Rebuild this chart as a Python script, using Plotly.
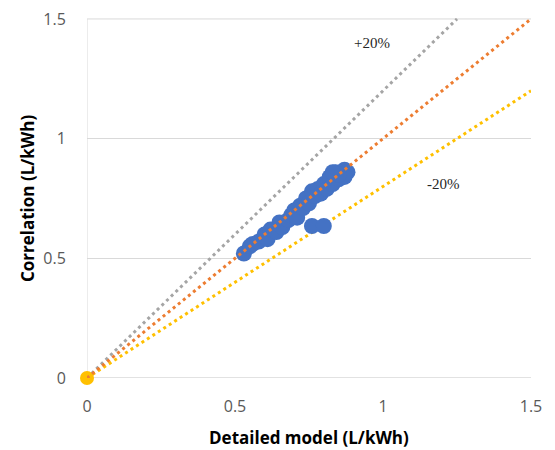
import plotly.graph_objects as go

# Scatter data: detailed model vs correlation (L/kWh)
detailed = [0.53, 0.55, 0.56, 0.58, 0.60, 0.61, 0.62, 0.64, 0.65, 0.66, 0.68, 0.69,
            0.70, 0.71, 0.72, 0.73, 0.74, 0.75, 0.77, 0.76, 0.78, 0.79, 0.80, 0.81,
            0.82, 0.83, 0.84, 0.85, 0.86, 0.87, 0.88, 0.87, 0.85, 0.83, 0.76, 0.80]
correlation = [0.52, 0.55, 0.56, 0.57, 0.60, 0.58, 0.62, 0.61, 0.65, 0.63, 0.66, 0.68,
               0.70, 0.67, 0.72, 0.71, 0.75, 0.73, 0.76, 0.78, 0.79, 0.77, 0.81, 0.79,
               0.84, 0.81, 0.86, 0.83, 0.86, 0.87, 0.86, 0.84, 0.85, 0.86, 0.635, 0.635]

# Reference lines
plus20_x = [0, 1.25]
plus20_y = [0, 1.5]
equal_x = [0, 1.5]
equal_y = [0, 1.5]
minus20_x = [0, 1.5]
minus20_y = [0, 1.2]
origin_x = [0]
origin_y = [0]

x_ticks = [0, 0.5, 1, 1.5]
y_ticks = [0, 0.5, 1, 1.5]
tick_text = ["0", "0.5", "1", "1.5"]

annotations_text = ["+20%", "-20%"]
annotations_pos = [(0.963, 1.40), (1.205, 0.81)]

fig = go.Figure()
dash = "3px,3.5px"
lw = 3
fig.add_trace(go.Scatter(x=plus20_x, y=plus20_y, mode="lines",
                         line=dict(color="#A5A5A5", width=lw, dash=dash), hoverinfo="skip"))
fig.add_trace(go.Scatter(x=minus20_x, y=minus20_y, mode="lines",
                         line=dict(color="#FFC000", width=lw, dash=dash), hoverinfo="skip"))
fig.add_trace(go.Scatter(x=detailed, y=correlation, mode="markers",
                         marker=dict(color="#4472C4", size=16, line=dict(width=0))))
fig.add_trace(go.Scatter(x=origin_x, y=origin_y, mode="markers",
                         marker=dict(color="#FFC000", size=14, line=dict(width=0))))
fig.add_trace(go.Scatter(x=equal_x, y=equal_y, mode="lines",
                         line=dict(color="#ED7D31", width=lw, dash=dash), hoverinfo="skip"))

for t, (ax, ay) in zip(annotations_text, annotations_pos):
    fig.add_annotation(x=ax, y=ay, text=t, showarrow=False,
                       font=dict(family="Liberation Serif", size=15, color="#262626"))

# Axis titles as annotations (fixed positions)
fig.add_annotation(xref="paper", yref="paper", x=0.5, y=-0.164, yanchor="middle",
                   text="<b>Detailed model (L/kWh)</b>", showarrow=False,
                   font=dict(family="Open Sans", size=17, color="#000000"))
fig.add_annotation(xref="paper", yref="paper", x=-0.135, y=0.5, xanchor="center",
                   text="<b>Correlation (L/kWh)</b>", showarrow=False, textangle=-90,
                   font=dict(family="Open Sans", size=17, color="#000000"))

fig.update_traces(cliponaxis=False)
# The page body adds an 8px offset, so the figure is sized/margined to compensate.
fig.update_layout(
    width=547, height=442,
    margin=dict(l=79, r=24, t=10, b=72, autoexpand=False),
    paper_bgcolor="white", plot_bgcolor="white",
    showlegend=False,
    xaxis=dict(range=[0, 1.5], tickvals=x_ticks, ticktext=tick_text, automargin=False,
               showgrid=False, zeroline=False, showline=False,
               ticks="outside", ticklen=14, tickcolor="rgba(0,0,0,0)",
               ticklabeloverflow="allow",
               tickfont=dict(family="Open Sans", size=16, color="#595959")),
    yaxis=dict(range=[0, 1.504], tickvals=y_ticks, ticktext=tick_text, automargin=False,
               showgrid=True, gridcolor="#D9D9D9", gridwidth=1,
               zeroline=False, showline=False,
               ticks="outside", ticklen=17, tickcolor="rgba(0,0,0,0)",
               ticklabeloverflow="allow",
               tickfont=dict(family="Open Sans", size=16, color="#595959")),
)
fig.add_shape(type="line", xref="x", yref="y", x0=0, x1=0, y0=0, y1=1.5,
              line=dict(color="#D9D9D9", width=1), layer="below")
fig.add_shape(type="line", xref="x", yref="y", x0=0, x1=1.5, y0=0, y1=0,
              line=dict(color="#D9D9D9", width=1.5), layer="below")
fig.add_shape(type="line", xref="x", yref="y", x0=0, x1=1.5, y0=1.5, y1=1.5,
              line=dict(color="#D9D9D9", width=1), layer="below")

fig.write_html("out.html")
